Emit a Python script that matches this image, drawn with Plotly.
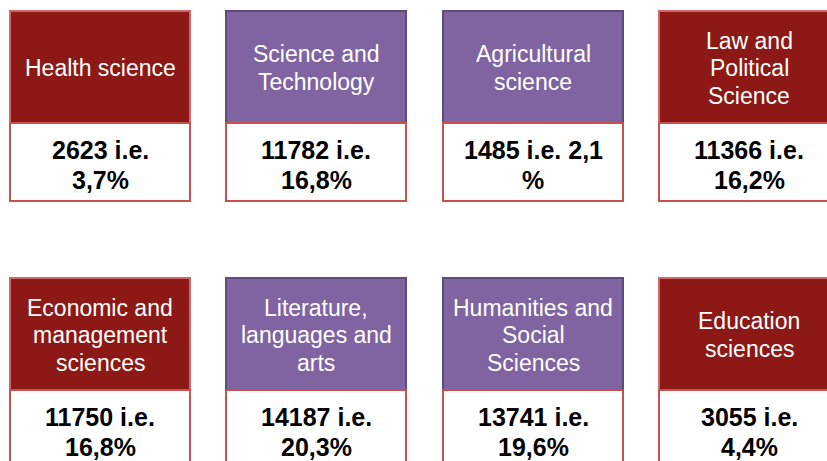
import plotly.graph_objects as go

# ---- data ----
categories = [
    "Health science",
    "Science and<br>Technology",
    "Agricultural<br>science",
    "Law and<br>Political<br>Science",
    "Economic and<br>management<br>sciences",
    "Literature,<br>languages and<br>arts",
    "Humanities and<br>Social<br>Sciences",
    "Education<br>sciences",
]
counts = [2623, 11782, 1485, 11366, 11750, 14187, 13741, 3055]
shares = ["3,7", "16,8", "2,1", "16,2", "16,8", "20,3", "19,6", "4,4"]
header_kind = ["red", "purple", "purple", "red", "red", "purple", "purple", "red"]
wrap_percent_only = [False, False, True, False, False, False, False, False]

# ---- styling / layout ----
W, H = 827, 461
col_x = [10, 226, 443, 659]
row_y = [11, 278]
box_w = 180
header_h = 112
value_h = 78
fill = {"red": "#8C1915", "purple": "#8064A2"}
edge = {"red": "#CD6A68", "purple": "#5E4A7C"}
value_edge = "#C8504D"
FONT = "Arial, Liberation Sans, sans-serif"
head_size, head_lh = 23, 27.5
val_size, val_lh = 25, 29.5

fig = go.Figure()
shapes, annotations = [], []

for i, (cat, c, s, kind, wrap) in enumerate(
        zip(categories, counts, shares, header_kind, wrap_percent_only)):
    r, k = divmod(i, 4)
    x0, y0 = col_x[k], row_y[r]
    x1 = x0 + box_w
    yh = y0 + header_h
    yv = yh + value_h
    shapes.append(dict(type="rect", xref="x", yref="y", x0=x0, x1=x1, y0=y0, y1=yh,
                       fillcolor=fill[kind], line=dict(color=edge[kind], width=2),
                       layer="below"))
    shapes.append(dict(type="rect", xref="x", yref="y", x0=x0, x1=x1, y0=yh, y1=yv,
                       fillcolor="white", line=dict(color=value_edge, width=2),
                       layer="below"))
    # header lines
    lines = cat.split("<br>")
    cy = (y0 + yh) / 2 + 1
    n = len(lines)
    for j, ln in enumerate(lines):
        annotations.append(dict(x=(x0 + x1) / 2, y=cy + (j - (n - 1) / 2) * head_lh,
                                xref="x", yref="y", text=ln, showarrow=False,
                                xanchor="center", yanchor="middle",
                                font=dict(family=FONT, size=head_size, color="white")))
    # value lines
    if wrap:
        vlines = [f"<b>{c} i.e. {s}</b>", "<b>%</b>"]
    else:
        vlines = [f"<b>{c} i.e.</b>", f"<b>{s}%</b>"]
    vy = (yh + yv) / 2 + 3
    for j, ln in enumerate(vlines):
        annotations.append(dict(x=(x0 + x1) / 2, y=vy + (j - 0.5) * val_lh,
                                xref="x", yref="y", text=ln, showarrow=False,
                                xanchor="center", yanchor="middle",
                                font=dict(family=FONT, size=val_size, color="black")))

fig.update_layout(
    width=W, height=H,
    margin=dict(l=0, r=0, t=0, b=0),
    paper_bgcolor="white", plot_bgcolor="white",
    xaxis=dict(range=[0, W], visible=False, fixedrange=True),
    yaxis=dict(range=[H, 0], visible=False, fixedrange=True),
    shapes=shapes, annotations=annotations,
    showlegend=False,
)
fig.write_html("out.html", config={"displayModeBar": False},
               post_script="document.body.style.margin='0';document.body.style.overflow='hidden';")
